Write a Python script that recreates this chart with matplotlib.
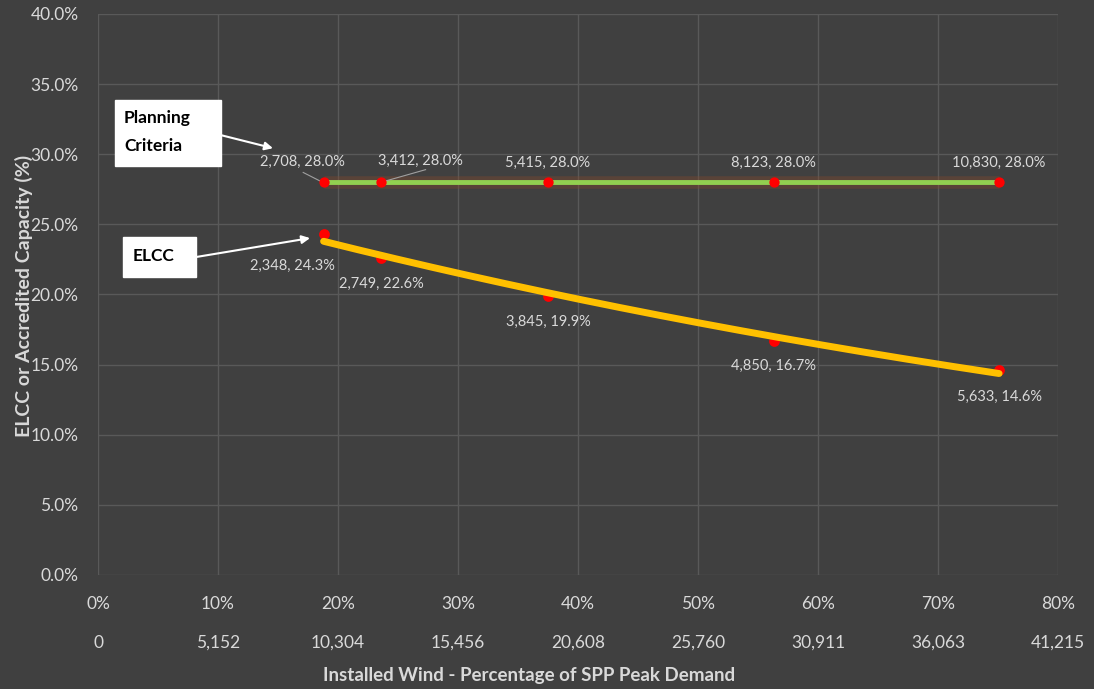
import numpy as np
import matplotlib
matplotlib.use("Agg")
import matplotlib.pyplot as plt
from matplotlib.patches import Rectangle
from matplotlib.transforms import blended_transform_factory

# ---- data ----
x_pct = [18.8, 23.6, 37.5, 56.3, 75.1]          # installed wind, % of SPP peak demand
planning_y = [28.0, 28.0, 28.0, 28.0, 28.0]
planning_mw = ["2,708", "3,412", "5,415", "8,123", "10,830"]
elcc_y = [24.3, 22.6, 19.9, 16.7, 14.6]
elcc_mw = ["2,348", "2,749", "3,845", "4,850", "5,633"]
x_ticks = [0, 10, 20, 30, 40, 50, 60, 70, 80]
x_mw_labels = ["0", "5,152", "10,304", "15,456", "20,608", "25,760", "30,911", "36,063", "41,215"]
y_ticks = [0, 5, 10, 15, 20, 25, 30, 35, 40]

BG = "#404040"
GRID = "#595959"
TXT = "#d9d9d9"
plt.rcParams['font.family'] = ['Lato', 'DejaVu Sans']

fig = plt.figure(figsize=(10.94, 6.89), dpi=100, facecolor=BG)
ax = fig.add_axes([0.0896, 0.1655, 0.8774, 0.8142], facecolor=BG)

ax.set_xlim(0, 80)
ax.set_ylim(0, 40)
ax.set_xticks(x_ticks)
ax.set_yticks(y_ticks)
ax.set_xticklabels([f"{t}%" for t in x_ticks])
ax.set_yticklabels([f"{t:.1f}%" for t in y_ticks])
ax.grid(True, color=GRID, linewidth=1)
ax.set_axisbelow(True)
for s in ax.spines.values():
    s.set_visible(False)
ax.tick_params(axis='both', length=0, colors=TXT, labelsize=12.5)
ax.tick_params(axis='x', pad=15)
ax.tick_params(axis='y', pad=14)

# second row of x labels (MW)
tr = blended_transform_factory(ax.transData, ax.transAxes)
for t, lab in zip(x_ticks, x_mw_labels):
    ax.text(t, -0.121, lab, transform=tr, ha='center', va='center', color=TXT, fontsize=12.5)

# planning criteria line
ax.plot(x_pct, planning_y, color="#8a4a2a", linewidth=9, alpha=0.35, solid_capstyle='butt', zorder=2)
ax.plot(x_pct, planning_y, color="#92D050", linewidth=3.5, zorder=3)

# ELCC exponential trend line
xa = np.array(x_pct)
b, a = np.polyfit(xa, np.log(elcc_y), 1)
xs = np.linspace(x_pct[0], x_pct[-1], 200)
ax.plot(xs, np.exp(a + b * xs), color="#FFC000", linewidth=5, zorder=4, solid_capstyle='round')

ax.scatter(x_pct, planning_y, s=55, color="#ff0000", zorder=5, linewidths=0)
ax.scatter(x_pct, elcc_y, s=60, color="#ff0000", zorder=3.5, linewidths=0)

# data labels
p_off = [(-1.8, 1.44), (3.3, 1.5), (0, 1.37), (0, 1.37), (0, 1.37)]
for (xx, yy, mw, off) in zip(x_pct, planning_y, planning_mw, p_off):
    ax.text(xx + off[0], yy + off[1], f"{mw}, {yy:.1f}%", ha='center', va='center',
            color=TXT, fontsize=10.5)
e_off = [(-2.6, -2.28), (0, -1.86), (0, -1.87), (0, -1.8), (0, -1.9)]
for (xx, yy, mw, off) in zip(x_pct, elcc_y, elcc_mw, e_off):
    ax.text(xx + off[0], yy + off[1], f"{mw}, {yy:.1f}%", ha='center', va='center',
            color=TXT, fontsize=10.5)

# leader lines
ax.plot([17.1, 18.6], [28.7, 28.05], color="#a0a0a0", linewidth=0.8, zorder=4)
ax.plot([24.0, 27.3], [28.1, 28.9], color="#a0a0a0", linewidth=0.8, zorder=4)

# annotation boxes
ax.add_patch(Rectangle((1.42, 29.15), 8.83, 4.71, facecolor='white', edgecolor='white', zorder=6))
ax.text(2.17, 32.57, "Planning", fontsize=12.5, fontweight='bold', color='black',
        ha='left', va='center', zorder=7)
ax.text(2.17, 30.58, "Criteria", fontsize=12.5, fontweight='bold', color='black',
        ha='left', va='center', zorder=7)
ax.annotate("", xy=(14.58, 30.43), xytext=(10.25, 31.36),
            arrowprops=dict(arrowstyle='-|>', color='white', lw=1.5, mutation_scale=12,
                            shrinkA=0, shrinkB=0), zorder=6)

ax.add_patch(Rectangle((2.08, 21.24), 6.09, 2.85, facecolor='white', edgecolor='white', zorder=6))
ax.text(2.92, 22.74, "ELCC", fontsize=12.5, fontweight='bold', color='black',
        ha='left', va='center', zorder=7)
ax.annotate("", xy=(17.67, 24.02), xytext=(8.17, 22.67),
            arrowprops=dict(arrowstyle='-|>', color='white', lw=1.5, mutation_scale=12,
                            shrinkA=0, shrinkB=0), zorder=6)

fig.text(0.022, 0.57, "ELCC or Accredited Capacity (%)", rotation=90, ha='center', va='center',
         color=TXT, fontsize=14, fontweight='bold')
fig.text(0.484, 0.019, "Installed Wind - Percentage of SPP Peak Demand", ha='center', va='center',
         color=TXT, fontsize=13.5, fontweight='bold')

fig.savefig("out.png", dpi=100, facecolor=BG)
